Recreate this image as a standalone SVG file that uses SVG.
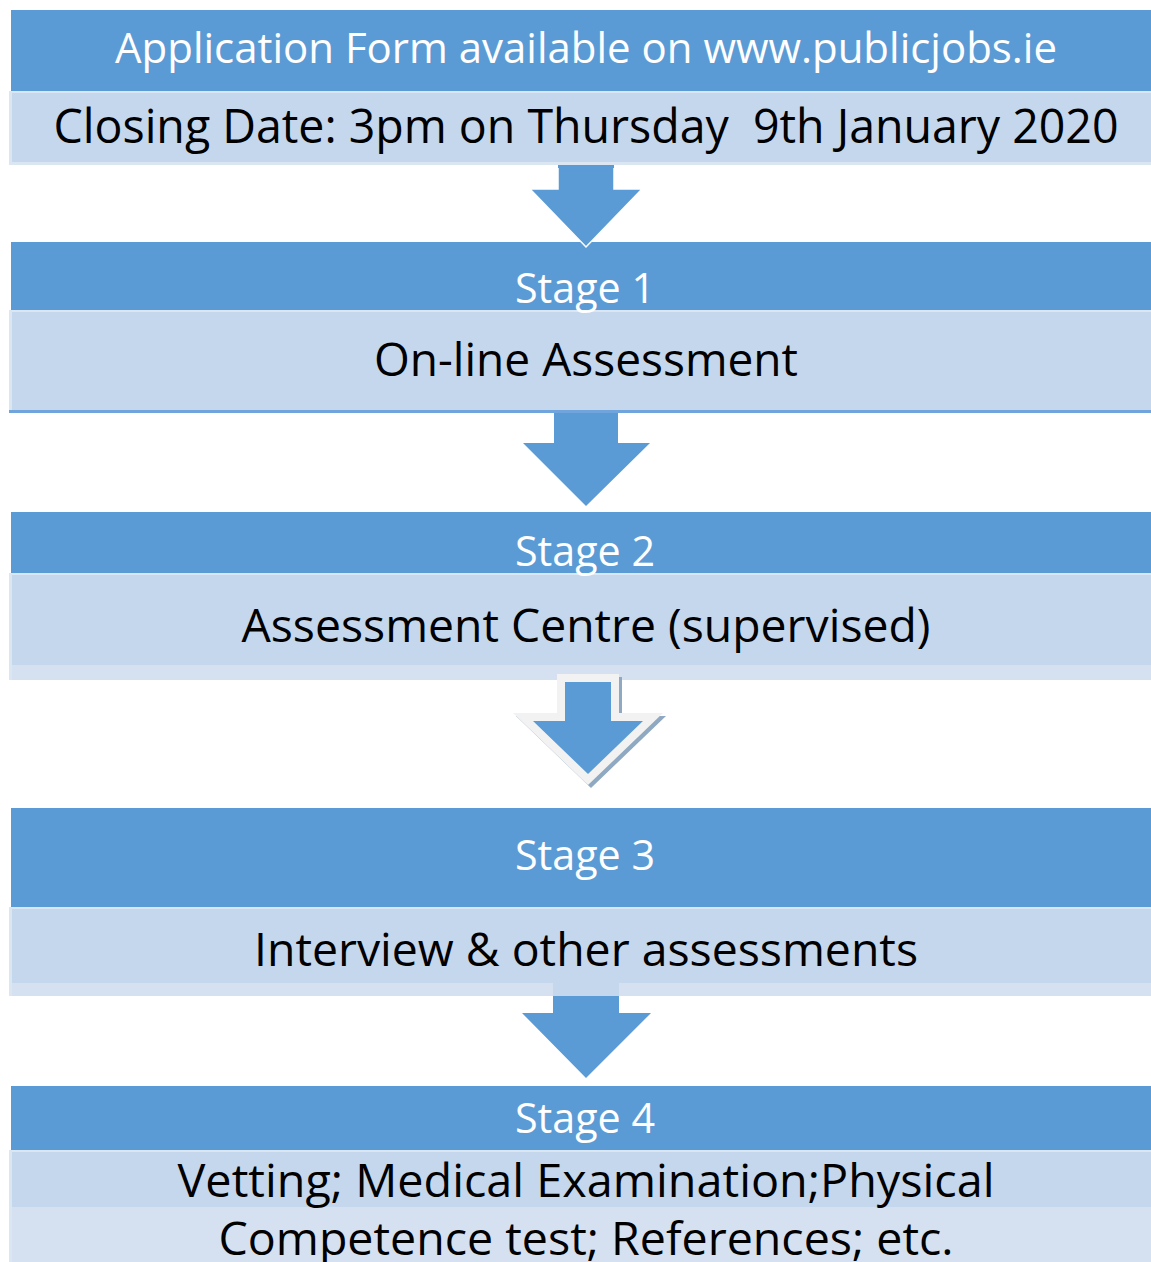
<svg xmlns="http://www.w3.org/2000/svg" width="1151" height="1262" viewBox="0 0 1151 1262">
<style>
.hdr{fill:#5b9bd5}
.lt{fill:#c5d7ec}
.lt2{fill:#d5e1f0}
.arr{fill:#5b9bd5}
.w{font-family:'Open Sans',sans-serif;fill:#ffffff;text-anchor:middle}
.b{font-family:'Open Sans',sans-serif;fill:#000000;text-anchor:middle}
</style>
<rect width="1151" height="1262" fill="#ffffff"/>
<g id="node0">
<rect class="hdr" x="11" y="10" width="1140" height="81"/>
<rect x="9" y="91" width="1142" height="74" fill="#dbe6f3"/>
<rect class="lt" x="12" y="93" width="1139" height="69"/>
<text class="w" x="586" y="63" font-size="42" textLength="942" lengthAdjust="spacingAndGlyphs">Application Form available on www.publicjobs.ie</text>
<text class="b" x="586" y="143" font-size="48" textLength="1065" lengthAdjust="spacingAndGlyphs" xml:space="preserve">Closing Date: 3pm on Thursday  9th January 2020</text>
</g>
<g id="stage1">
<rect class="hdr" x="11" y="242" width="1140" height="68"/>
<rect x="9" y="310" width="1142" height="103" fill="#dbe6f3"/>
<rect class="lt" x="12" y="312" width="1139" height="99"/>
<rect x="9" y="410" width="1142" height="3" fill="#6fa5dc"/>
<text class="w" x="585" y="303" font-size="42" textLength="140" lengthAdjust="spacingAndGlyphs">Stage 1</text>
<text class="b" x="586" y="376" font-size="46" textLength="424" lengthAdjust="spacingAndGlyphs">On-line Assessment</text>
</g>
<g id="stage2">
<rect class="hdr" x="11" y="512" width="1140" height="61"/>
<rect x="9" y="573" width="1142" height="107" fill="#dbe6f3"/>
<rect class="lt" x="12" y="575" width="1139" height="90"/>
<rect class="lt2" x="12" y="665" width="1139" height="15"/>
<text class="w" x="585" y="566" font-size="42" textLength="140" lengthAdjust="spacingAndGlyphs">Stage 2</text>
<text class="b" x="586" y="642" font-size="46" textLength="689" lengthAdjust="spacingAndGlyphs">Assessment Centre (supervised)</text>
</g>
<g id="stage3">
<rect class="hdr" x="11" y="808" width="1140" height="99"/>
<rect x="9" y="907" width="1142" height="89" fill="#dbe6f3"/>
<rect class="lt" x="12" y="909" width="1139" height="74"/>
<rect class="lt2" x="12" y="983" width="1139" height="13"/>
<rect x="553" y="983" width="66" height="13" fill="#c5d7ec"/>
<text class="w" x="585" y="870" font-size="42" textLength="140" lengthAdjust="spacingAndGlyphs">Stage 3</text>
<text class="b" x="586" y="966" font-size="46" textLength="664" lengthAdjust="spacingAndGlyphs">Interview &amp; other assessments</text>
</g>
<g id="stage4">
<rect class="hdr" x="11" y="1086" width="1140" height="64"/>
<rect x="9" y="1150" width="1142" height="112" fill="#dbe6f3"/>
<rect class="lt" x="12" y="1152" width="1139" height="55"/>
<rect class="lt2" x="12" y="1207" width="1139" height="55"/>
<text class="w" x="585" y="1133" font-size="42" textLength="140" lengthAdjust="spacingAndGlyphs">Stage 4</text>
<text class="b" x="586" y="1197" font-size="46" textLength="817" lengthAdjust="spacingAndGlyphs">Vetting; Medical Examination;Physical</text>
<text class="b" x="586" y="1255" font-size="46" textLength="735" lengthAdjust="spacingAndGlyphs">Competence test; References; etc.</text>
</g>
<g id="connectors">
<polygon class="arr" stroke="#ffffff" stroke-width="1.5" stroke-linejoin="miter" points="558,166 614,166 614,189 642,189 586,247 530,189 558,189"/>
<rect class="arr" x="558" y="165" width="56" height="3"/>
<polygon class="arr" points="554,413 618,413 618,443 650,443 586,506 523,443 554,443"/>
<g id="arrow3">
<polygon fill="#8ea9c1" points="560,677 622,677 622,716 666,716 591,788 516,716 560,716"/>
<polygon fill="#f2f2f2" points="557,674 619,674 619,713 663,713 588,785 513,713 557,713"/>
<polygon class="arr" points="565,682 611,682 611,721 643,721 588,774 533,721 565,721"/>
</g>
<polygon class="arr" points="553,996 619,996 619,1013 651,1013 586,1078 522,1013 553,1013"/>
</g>
</svg>
